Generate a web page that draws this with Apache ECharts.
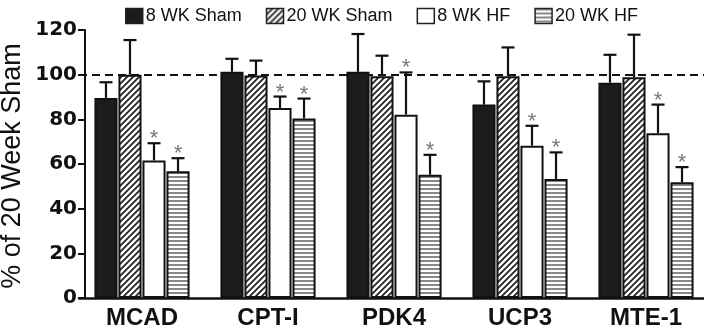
<!DOCTYPE html>
<html><head><meta charset="utf-8">
<script src="https://cdn.jsdelivr.net/npm/echarts@6/dist/echarts.min.js"></script>
<style>html,body{margin:0;padding:0;background:#fff}#c{width:704px;height:330px}</style>
</head><body><div id="c"></div>
<script>
var categories = ['MCAD', 'CPT-I', 'PDK4', 'UCP3', 'MTE-1'];
var seriesNames = ['8 WK Sham', '20 WK Sham', '8 WK HF', '20 WK HF'];
var sham8 = [89.6, 101.3, 101.3, 86.6, 96.4];
var sham20 = [100, 99.6, 99.3, 99.3, 98.8];
var hf8 = [61.6, 85.1, 82.1, 68.2, 73.8];
var hf20 = [56.7, 80.4, 55.2, 53.3, 51.8];
var sham8Err = [7.0, 5.8, 16.9, 10.4, 12.5];
var sham20Err = [15.5, 6.7, 9.2, 12.9, 19.1];
var hf8Err = [7.7, 5.1, 18.9, 8.9, 12.8];
var hf20Err = [5.9, 8.9, 8.9, 11.9, 6.8];
var hf8Sig = [1, 1, 1, 1, 1];
var hf20Sig = [1, 1, 1, 1, 1];
var yTicks = [0, 20, 40, 60, 80, 100, 120];
var yTitle = '% of 20 Week Sham';
var refLine = 100;

function hatchPattern() {
  var c = document.createElement('canvas'); c.width = 6; c.height = 6;
  var g = c.getContext('2d');
  g.fillStyle = '#fff'; g.fillRect(0, 0, 6, 6);
  g.strokeStyle = '#222'; g.lineWidth = 1.8;
  g.beginPath();
  g.moveTo(-1, 7); g.lineTo(7, -1);
  g.moveTo(-4, 4); g.lineTo(4, -4);
  g.moveTo(2, 10); g.lineTo(10, 2);
  g.stroke();
  return c;
}
function stripePattern() {
  var c = document.createElement('canvas'); c.width = 4; c.height = 4;
  var g = c.getContext('2d');
  g.fillStyle = '#fff'; g.fillRect(0, 0, 4, 4);
  g.fillStyle = '#888'; g.fillRect(0, 0, 4, 2);
  return c;
}

var means = [sham8, sham20, hf8, hf20];
var errs = [sham8Err, sham20Err, hf8Err, hf20Err];
var sigs = [[0,0,0,0,0],[0,0,0,0,0], hf8Sig, hf20Sig];
var fills = ['#1c1c1c', {image: hatchPattern(), repeat: 'repeat'}, '#ffffff', {image: stripePattern(), repeat: 'repeat'}];

var CAT_GAP = 0.245, BAR_GAP = 0.04;
var errData = [];
for (var s = 0; s < 4; s++) {
  for (var i = 0; i < categories.length; i++) {
    errData.push([i, s, means[s][i], means[s][i] + errs[s][i], sigs[s][i]]);
  }
}

var series = [];
for (var s = 0; s < 4; s++) {
  var ser = {
    name: seriesNames[s], type: 'bar', data: means[s],
    barCategoryGap: (CAT_GAP * 100) + '%', barGap: (BAR_GAP * 100) + '%',
    itemStyle: {color: fills[s], borderColor: '#111', borderWidth: 2},
    z: 2
  };
  if (s === 0) {
    ser.markLine = {
      silent: true, symbol: 'none', label: {show: false},
      lineStyle: {color: '#111', type: [8, 5], width: 2},
      data: [{yAxis: refLine}], z: 1
    };
  }
  series.push(ser);
}
series.push({
  type: 'custom', z: 5,
  data: errData,
  encode: {x: 0, y: 3},
  renderItem: function (params, api) {
    var cat = api.value(0), sIdx = api.value(1), m = api.value(2), top = api.value(3), sig = api.value(4);
    var band = api.size([1, 0])[0];
    var bw = band * (1 - CAT_GAP) / (4 + 3 * BAR_GAP);
    var cx = api.coord([cat, 0])[0] - band * (1 - CAT_GAP) / 2 + bw * (1 + BAR_GAP) * sIdx + bw / 2;
    var yM = api.coord([cat, m])[1], yT = api.coord([cat, top])[1];
    var cap = 6.5;
    var children = [
      {type: 'line', shape: {x1: cx, y1: yM, x2: cx, y2: yT}, style: {stroke: '#111', lineWidth: 2.2}},
      {type: 'line', shape: {x1: cx - cap, y1: yT, x2: cx + cap, y2: yT}, style: {stroke: '#111', lineWidth: 2.2}}
    ];
    if (sig) {
      children.push({type: 'text', x: cx, y: yT - 4,
        style: {text: '*', fill: '#777', font: '22px "Liberation Sans"', align: 'center', verticalAlign: 'middle'}});
    }
    return {type: 'group', children: children};
  }
});

var chart = echarts.init(document.getElementById('c'));
chart.setOption({
  animation: false,
  textStyle: {fontFamily: '"Liberation Sans", Arial, sans-serif'},
  legend: {
    data: seriesNames, top: 2, left: 120, itemWidth: 17, itemHeight: 15, itemGap: 24,
    icon: 'rect',
    textStyle: {fontSize: 18, color: '#111', padding: [0, 0, 0, -2]},
    itemStyle: {borderColor: '#222', borderWidth: 1.5}
  },
  graphic: [{
    type: 'text', x: 13, y: 166, rotation: Math.PI / 2, silent: true,
    style: {text: yTitle, fill: '#111', font: '27px "Liberation Sans", Arial, sans-serif',
      textAlign: 'center', textVerticalAlign: 'middle'}
  }],
  grid: {left: 79, right: -5, top: 30, bottom: 32, containLabel: false, outerBoundsMode: 'none'},
  xAxis: {
    type: 'category', data: categories,
    axisLine: {lineStyle: {color: '#111', width: 2.5}},
    axisTick: {show: false},
    axisLabel: {fontSize: 24, fontWeight: 'bold', color: '#111', margin: 8}
  },
  yAxis: {
    type: 'value', min: 0, max: 120, interval: 20, offset: -6,
    axisLine: {show: true, lineStyle: {color: '#111', width: 2}},
    axisTick: {show: true, length: 7, lineStyle: {color: '#111', width: 2}},
    axisLabel: {fontSize: 20, fontWeight: 'bold', color: '#111', margin: 8,
      fontFamily: '"DejaVu Sans", sans-serif',
      formatter: function (v) { return yTicks.indexOf(v) >= 0 ? String(v) : ''; }},
    splitLine: {show: false}
  },
  series: series
});
</script></body></html>
